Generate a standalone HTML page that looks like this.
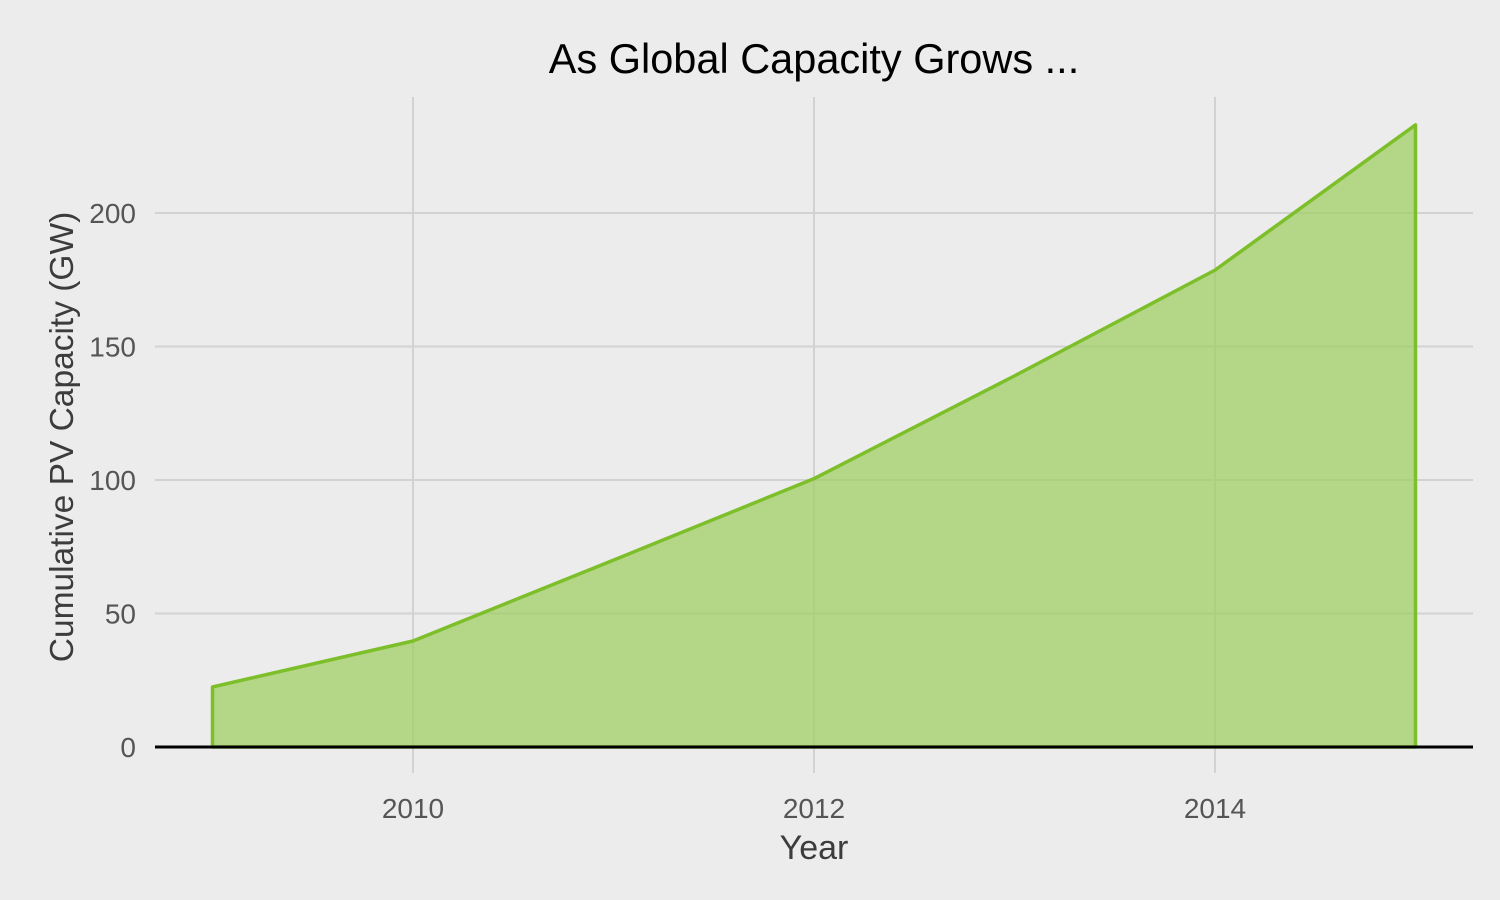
<!DOCTYPE html>
<html><head><meta charset="utf-8">
<style>
html,body{margin:0;padding:0;background:#ececec;}
svg{display:block;font-family:"Liberation Sans",sans-serif;}
</style></head>
<body>
<svg id="chart" width="1500" height="900">
<rect width="1500" height="900" fill="#ececec"/>
<text x="814" y="73" text-anchor="middle" font-size="41.5" fill="#000">As Global Capacity Grows ...</text>
<g id="grid"></g>
<g id="area"></g>
<g id="axes"></g>
<text x="814" y="859" text-anchor="middle" font-size="34" fill="#3c3c3c">Year</text>
<text transform="translate(73,437) rotate(-90)" text-anchor="middle" font-size="33.5" fill="#3c3c3c">Cumulative PV Capacity (GW)</text>
</svg>
<script>
const years = [2009, 2010, 2011, 2012, 2013, 2014, 2015];
const capacity = [22.5, 39.7, 70, 100.5, 139, 178.6, 233];
const xTicks = [2010, 2012, 2014];
const yTicks = [0, 50, 100, 150, 200];

const NS = "http://www.w3.org/2000/svg";
const x = v => 413 + (v - 2010) * 200.5;
const y = v => 747 - v * 2.67;
function mk(tag, attrs, parent) {
  const e = document.createElementNS(NS, tag);
  for (const k in attrs) e.setAttribute(k, attrs[k]);
  parent.appendChild(e);
  return e;
}
const grid = document.getElementById('grid');
const axes = document.getElementById('axes');
const area = document.getElementById('area');
yTicks.forEach(t => {
  const l = mk('line', {x1: 155, x2: 1473, y1: y(t), y2: y(t), stroke: '#d2d2d2', 'stroke-width': 2}, grid);
  
  
  const tx = mk('text', {x: 136, y: y(t) + 10, 'text-anchor': 'end', 'font-size': 28, fill: '#555'}, axes);
  tx.textContent = t;
  
  
});
xTicks.forEach(t => {
  const l = mk('line', {x1: x(t), x2: x(t), y1: 97, y2: 773, stroke: '#d2d2d2', 'stroke-width': 2}, grid);
  
  
  const tx = mk('text', {x: x(t), y: 818, 'text-anchor': 'middle', 'font-size': 28, fill: '#555'}, axes);
  tx.textContent = t;
  
  
});
let d = 'M' + x(years[0]) + ',' + y(0);
years.forEach((yr, i) => { d += ' L' + x(yr) + ',' + y(capacity[i]); });
d += ' L' + x(years[years.length - 1]) + ',' + y(0) + ' Z';
const p = mk('path', {d: d, fill: '#9ccd5c', 'fill-opacity': 0.7, stroke: '#7dbf2a', 'stroke-width': 3.5, 'stroke-linejoin': 'round'}, area);


const z = mk('line', {x1: 155, x2: 1473, y1: y(0), y2: y(0), stroke: '#000', 'stroke-width': 3}, axes);


</script>
</body></html>
